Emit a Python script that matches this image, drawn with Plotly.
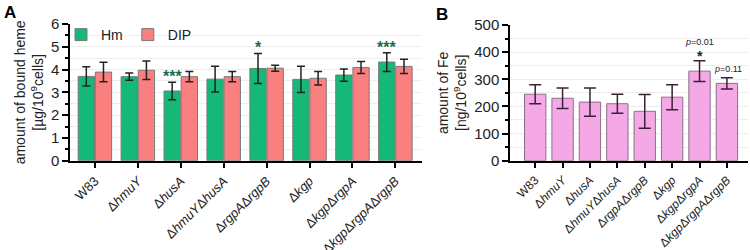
import plotly.graph_objects as go

categories = ["W83", "Δ<i>hmuY</i>", "Δ<i>husA</i>", "Δ<i>hmuY</i>Δ<i>husA</i>",
              "Δ<i>rgpA</i>Δ<i>rgpB</i>", "Δ<i>kgp</i>", "Δ<i>kgp</i>Δ<i>rgpA</i>",
              "Δ<i>kgp</i>Δ<i>rgpA</i>Δ<i>rgpB</i>"]
hm_mean = [3.70, 3.69, 3.06, 3.58, 4.05, 3.57, 3.76, 4.33]
hm_sd = [0.42, 0.16, 0.38, 0.57, 0.66, 0.58, 0.27, 0.41]
dip_mean = [3.89, 3.97, 3.69, 3.69, 4.06, 3.62, 4.09, 4.14]
dip_sd = [0.43, 0.41, 0.22, 0.22, 0.13, 0.30, 0.26, 0.31]
fe_mean = [245, 230, 216, 210, 182, 234, 330, 285]
fe_sd = [35, 38, 52, 35, 62, 46, 38, 21]
hm_stars = {2: "***", 4: "*", 7: "***"}
fe_notes = {6: ("<i>p</i>=0.01", "*"), 7: ("<i>p</i>=0.11", "")}

GREEN = "#14b877"
SALMON = "#fa7f7f"
PINK = "#f4a8e6"
FONT = "Liberation Sans, Arial"
W, H = 750, 250

fig = go.Figure()
fig.add_trace(go.Bar(x=categories, y=hm_mean, name="Hm", marker=dict(color=GREEN, line=dict(color="#7a7a7a", width=1)),
                     error_y=dict(type="data", array=hm_sd, color="#222", thickness=1.5, width=4),
                     xaxis="x", yaxis="y"))
fig.add_trace(go.Bar(x=categories, y=dip_mean, name="DIP", marker=dict(color=SALMON, line=dict(color="#7a7a7a", width=1)),
                     error_y=dict(type="data", array=dip_sd, color="#222", thickness=1.5, width=4),
                     xaxis="x", yaxis="y"))
fig.add_trace(go.Bar(x=categories, y=fe_mean, name="Fe", showlegend=False,
                     marker=dict(color=PINK, line=dict(color="#8a7088", width=1)),
                     error_y=dict(type="data", array=fe_sd, color="#3a2038", thickness=1.5, width=6),
                     xaxis="x2", yaxis="y2", width=0.78))

ann = []
for i, s in hm_stars.items():
    ann.append(dict(x=categories[i], y=hm_mean[i] + hm_sd[i], xref="x", yref="y", text="<b>" + s + "</b>",
                    showarrow=False, xshift=-8.5, yanchor="bottom", yshift=-5,
                    font=dict(family=FONT, size=16, color="#1b6e4b")))
for i, (p, s) in fe_notes.items():
    top = fe_mean[i] + fe_sd[i]
    if s:
        ann.append(dict(x=categories[i], y=top, xref="x2", yref="y2", text="<b>" + s + "</b>", showarrow=False,
                        yanchor="bottom", yshift=-5, font=dict(family=FONT, size=14, color="#222")))
        ann.append(dict(x=categories[i], y=top, xref="x2", yref="y2", text=p, showarrow=False,
                        yanchor="bottom", yshift=12, font=dict(family=FONT, size=9, color="#222")))
    else:
        ann.append(dict(x=categories[i], y=top, xref="x2", yref="y2", text=p, showarrow=False,
                        xanchor="right", xshift=17, yanchor="bottom", yshift=2,
                        font=dict(family=FONT, size=9, color="#222")))
ann.append(dict(x=2 / W, y=1 - 1 / H, xref="paper", yref="paper", text="<b>A</b>", showarrow=False,
                xanchor="left", yanchor="top", font=dict(family=FONT, size=17, color="black")))
ann.append(dict(x=434 / W, y=1 - 3 / H, xref="paper", yref="paper", text="<b>B</b>", showarrow=False,
                xanchor="left", yanchor="top", font=dict(family=FONT, size=17, color="black")))

axis_common = dict(showline=True, linecolor="black", linewidth=1.5, ticks="outside", tickcolor="black",
                   tickwidth=1.5, ticklen=6, automargin=False,
                   tickfont=dict(family=FONT, size=15, color="#222"))
fig.update_layout(
    width=W, height=H, margin=dict(l=0, r=0, t=0, b=0),
    paper_bgcolor="white", plot_bgcolor="white",
    font=dict(family=FONT, color="#222"),
    barmode="group", bargap=0.2, bargroupgap=0.05,
    showlegend=True,
    legend=dict(orientation="h", x=61 / W, y=1 - 19 / H, xanchor="left", yanchor="top",
                font=dict(family=FONT, size=14, color="#222"), bgcolor="rgba(0,0,0,0)",
                itemwidth=30, tracegroupgap=0),
    xaxis=dict(domain=[70 / W, 422 / W], anchor="y", range=[-0.58, 7.62],
               tickangle=-45, **{**axis_common, "tickfont": dict(family=FONT, size=13, color="#222")}),
    yaxis=dict(domain=[89.3 / H, 226 / H], anchor="x", range=[0, 6], dtick=1,
               showgrid=True, gridcolor="#eeeeee", gridwidth=1,
               minor=dict(dtick=0.5, ticks="outside", ticklen=3, tickcolor="black", showgrid=True, gridcolor="#eeeeee"),
               title=dict(text="amount of bound heme<br>[µg/10<sup>9</sup>cells]", standoff=4,
                          font=dict(family=FONT, size=14, color="#222")),
               zeroline=False, **axis_common),
    xaxis2=dict(domain=[510 / W, 748 / W], anchor="y2", range=[-0.92, 7.77],
                tickangle=-45, **{**axis_common, "tickfont": dict(family=FONT, size=12, color="#222")}),
    yaxis2=dict(domain=[89.3 / H, 225 / H], anchor="x2", range=[0, 500], dtick=100,
                showgrid=True, gridcolor="#eeeeee", gridwidth=1,
                minor=dict(dtick=50, ticks="outside", ticklen=3, tickcolor="black", showgrid=True, gridcolor="#eeeeee"),
                title=dict(text="amount of Fe<br>[ng/10<sup>9</sup>cells]", standoff=4,
                           font=dict(family=FONT, size=14, color="#222")),
                zeroline=False, **axis_common),
    annotations=ann,
)
fig.write_html("out.html", config={"displayModeBar": False},
               post_script="document.body.style.margin='0';document.body.style.overflow='hidden';")
